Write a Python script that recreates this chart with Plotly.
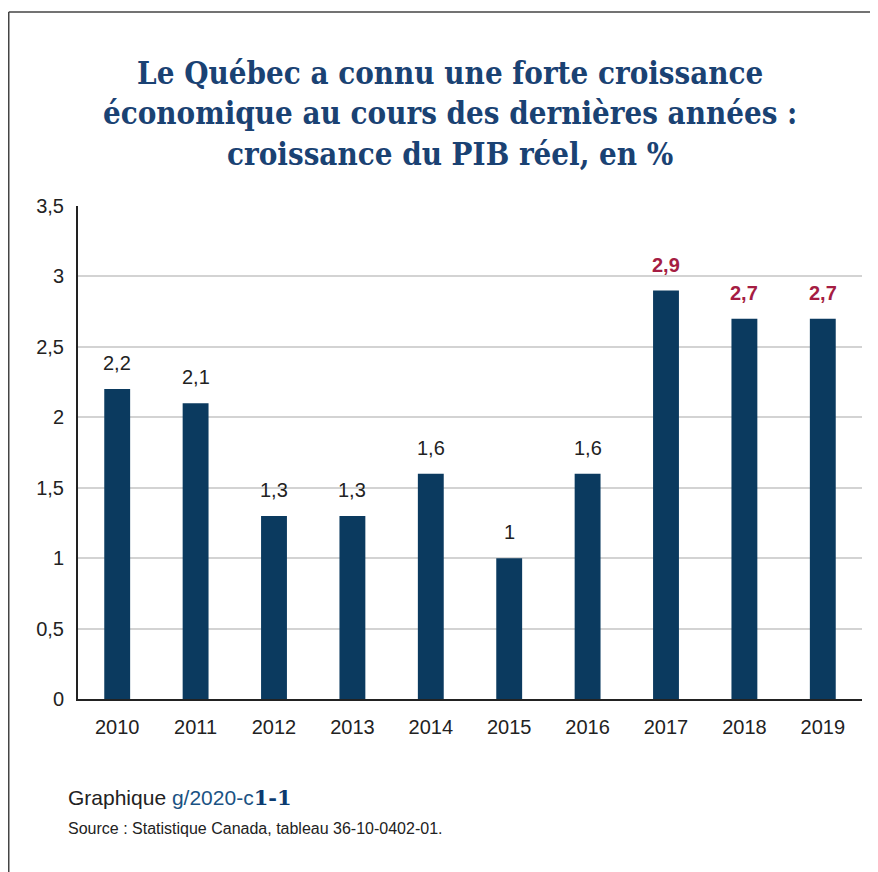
import plotly.graph_objects as go

years = ["2010", "2011", "2012", "2013", "2014", "2015", "2016", "2017", "2018", "2019"]
growth = [2.2, 2.1, 1.3, 1.3, 1.6, 1.0, 1.6, 2.9, 2.7, 2.7]
labels = ["2,2", "2,1", "1,3", "1,3", "1,6", "1", "1,6", "2,9", "2,7", "2,7"]
projected = [False] * 7 + [True] * 3
tick_vals = [0, 0.5, 1, 1.5, 2, 2.5, 3, 3.5]
tick_text = ["0", "0,5", "1", "1,5", "2", "2,5", "3", "3,5"]

bar_color = "#0b3a5f"
red = "#a51d43"

fig = go.Figure()
fig.add_trace(go.Bar(
    x=years, y=growth,
    marker=dict(color=bar_color, line=dict(width=0)),
    hoverinfo="skip",
))

# value labels above bars (x given as category index)
for i, (v, l, p) in enumerate(zip(growth, labels, projected)):
    fig.add_annotation(
        x=i, y=v, xref="x", yref="y",
        text=f"<b>{l}</b>" if p else l,
        showarrow=False, yanchor="bottom", yshift=13,
        font=dict(family="Liberation Sans, Arial", size=20,
                  color=red if p else "#222222"),
    )

# page is offset by 8px body margin in the browser
W, H = 870, 864
OFF = 8
ml, mr, mt, mb = 70, 16, 198, 173
pw = W - ml - mr
ph = H - mt - mb

def px_x(sx):
    return (sx - OFF - ml) / pw

def px_y(sy):
    return (H - mb - (sy - OFF)) / ph

fig.update_layout(
    width=W, height=H,
    margin=dict(l=ml, r=mr, t=mt, b=mb, autoexpand=False),
    paper_bgcolor="white", plot_bgcolor="white",
    bargap=0.67,
    showlegend=False,
    font=dict(family="Liberation Sans, Arial", color="#222222"),
    xaxis=dict(
        type="category",
        range=[-0.5, len(years) - 0.5],
        showline=True, linecolor="#222222", linewidth=2,
        ticks="", tickfont=dict(size=20, color="#222222"),
        ticklabelstandoff=9,
        showgrid=False,
    ),
    yaxis=dict(
        range=[0, 3.5],
        tickvals=tick_vals, ticktext=tick_text,
        tickfont=dict(size=20, color="#222222"),
        showline=True, linecolor="#222222", linewidth=2,
        showgrid=True, gridcolor="#d3d3d3", gridwidth=2,
        ticks="", ticklabelstandoff=8,
        zeroline=False,
    ),
)

# Frame border (top and left edges)
fig.add_shape(type="line", xref="paper", yref="paper",
              x0=px_x(8.75), x1=px_x(880), y0=px_y(12), y1=px_y(12),
              line=dict(color="#444444", width=1.5))
fig.add_shape(type="line", xref="paper", yref="paper",
              x0=px_x(8.75), x1=px_x(8.75), y0=px_y(12), y1=px_y(880),
              line=dict(color="#444444", width=1.5))

# Title
fig.add_annotation(
    xref="paper", yref="paper", x=px_x(450), y=px_y(113),
    xanchor="center", yanchor="middle", showarrow=False,
    text="<b>Le Québec a connu une forte croissance<br>économique au cours des dernières années :<br>croissance du PIB réel, en %</b>",
    font=dict(family="DejaVu Serif Condensed, DejaVu Serif", size=31, color="#1a4273"),
    align="center",
)

# Footer
fig.add_annotation(
    xref="paper", yref="paper", x=px_x(66), y=px_y(797),
    xanchor="left", yanchor="middle", showarrow=False,
    text="Graphique <span style='color:#1a5283'>g/2020-c</span><span style='color:#0b3a6f;font-family:DejaVu Serif'><b>1-1</b></span>",
    font=dict(family="Liberation Sans, Arial", size=21, color="#222222"),
)
fig.add_annotation(
    xref="paper", yref="paper", x=px_x(66), y=px_y(828),
    xanchor="left", yanchor="middle", showarrow=False,
    text="Source : Statistique Canada, tableau 36-10-0402-01.",
    font=dict(family="Liberation Sans, Arial", size=16, color="#222222"),
)

fig.write_html("out.html")
